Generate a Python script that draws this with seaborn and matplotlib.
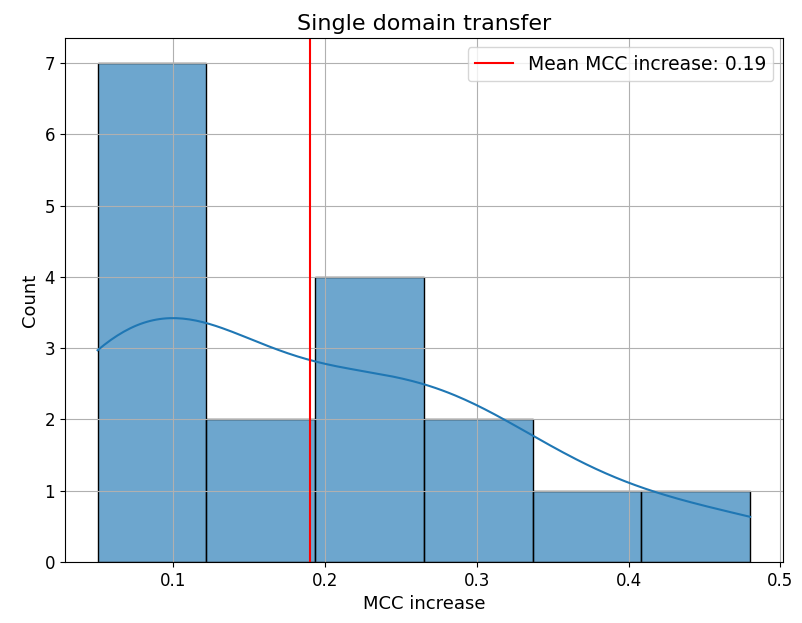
import numpy as np
import pandas as pd
import seaborn as sns
import matplotlib
matplotlib.use('Agg')
import matplotlib.pyplot as plt

# MCC increase per dataset (6 bins)
mcc_increase = [0.05, 0.05, 0.06, 0.07, 0.08, 0.09, 0.11,
                0.13, 0.14,
                0.22, 0.24, 0.25, 0.26,
                0.29, 0.32,
                0.39,
                0.48]

df = pd.DataFrame({'MCC increase': mcc_increase})
mean_val = np.mean(mcc_increase)

fig = plt.figure(figsize=(8.02, 6.23), dpi=100)
ax = fig.add_subplot(111)
fig.subplots_adjust(left=0.081, right=0.976, top=0.939, bottom=0.098)

sns.histplot(ax=ax, data=df, x='MCC increase', bins=6, kde=True,
             alpha=0.65, edgecolor='black')
ax.axvline(mean_val, color='red', label=f'Mean MCC increase: {mean_val:.2f}')
ax.set_title('Single domain transfer', fontsize=16)
ax.set_xlabel('MCC increase', fontsize=13)
ax.set_ylabel('Count', fontsize=13)
ax.tick_params(labelsize=12)
ax.legend(fontsize=13.5)
ax.grid(True)

plt.savefig('out.png', dpi=100)
